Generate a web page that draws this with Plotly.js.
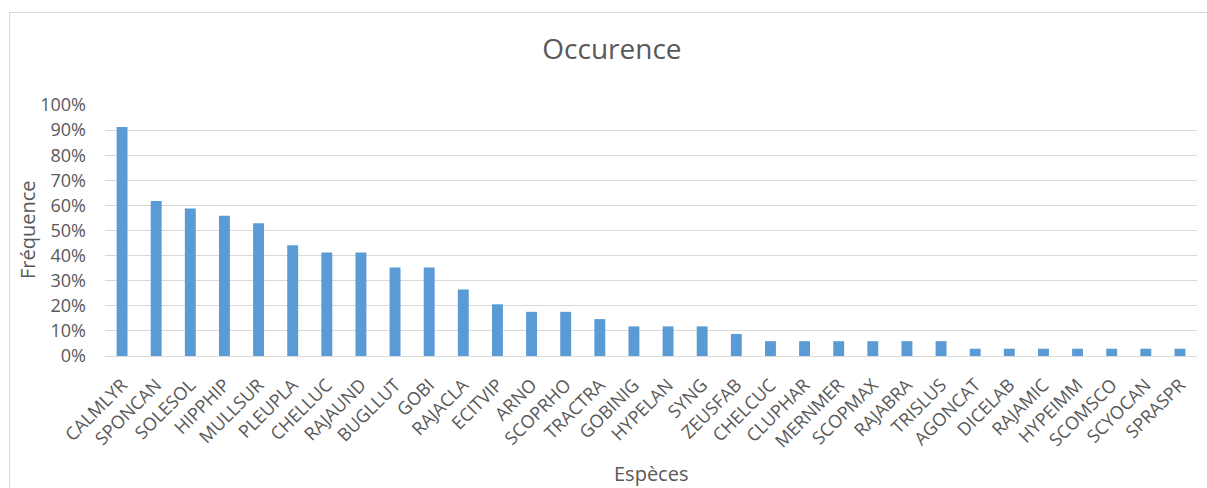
<!DOCTYPE html>
<html>
<head>
<meta charset="utf-8">
<script src="https://cdn.plot.ly/plotly-3.0.1.min.js"></script>
<style>
  html, body { margin: 0; padding: 0; background: #ffffff; }
  #wrap { position: relative; width: 1207px; height: 488px; overflow: hidden; }
  #chart { position: absolute; left: 0; top: 0; width: 1207px; height: 488px; }
  #frame { position: absolute; left: 9px; top: 12px; width: 1207px; height: 520px;
           border: 1px solid #d9d9d9; pointer-events: none; box-sizing: border-box; }
</style>
</head>
<body>
<div id="wrap">
  <div id="chart"></div>
  <div id="frame"></div>
</div>
<script>
// Species codes
const species = [
  "CALMLYR", "SPONCAN", "SOLESOL", "HIPPHIP", "MULLSUR", "PLEUPLA", "CHELLUC", "RAJAUND",
  "BUGLLUT", "GOBI", "RAJACLA", "ECITVIP", "ARNO", "SCOPRHO", "TRACTRA", "GOBINIG",
  "HYPELAN", "SYNG", "ZEUSFAB", "CHELCUC", "CLUPHAR", "MERNMER", "SCOPMAX", "RAJABRA",
  "TRISLUS", "AGONCAT", "DICELAB", "RAJAMIC", "HYPEIMM", "SCOMSCO", "SCYOCAN", "SPRASPR"
];

// Occurrence frequency per species
const frequency = [
  0.912, 0.618, 0.588, 0.559, 0.529, 0.441, 0.412, 0.412,
  0.353, 0.353, 0.265, 0.206, 0.176, 0.176, 0.147, 0.118,
  0.118, 0.118, 0.088, 0.059, 0.059, 0.059, 0.059, 0.059,
  0.059, 0.029, 0.029, 0.029, 0.029, 0.029, 0.029, 0.029
];

const fontFamily = "'Open Sans', 'Noto Sans', sans-serif";
const textColor = "#595959";

const trace = {
  type: "bar",
  x: species,
  y: frequency,
  marker: { color: "#5b9bd5", line: { width: 0 } },
  hoverinfo: "x+y"
};

const layout = {
  width: 1207,
  height: 488,
  margin: { l: 105, r: 10, t: 105, b: 132 },
  paper_bgcolor: "#ffffff",
  plot_bgcolor: "#ffffff",
  bargap: 0.68,
  showlegend: false,
  font: { family: fontFamily, color: textColor },
  title: {
    text: "Occurence",
    font: { family: fontFamily, size: 28, color: textColor },
    x: 0.507, xanchor: "center",
    y: 0.9, yanchor: "middle", yref: "container"
  },
  xaxis: {
    type: "category",
    tickangle: -45,
    tickfont: { family: fontFamily, size: 18, color: textColor },
    ticklabelstandoff: 14,
    showgrid: false,
    showline: false,
    zeroline: false,
    ticks: ""
  },
  yaxis: {
    range: [0, 1],
    dtick: 0.1,
    tickformat: ".0%",
    tickfont: { family: fontFamily, size: 18, color: textColor },
    ticklabelstandoff: 18,
    gridcolor: "#d9d9d9",
    gridwidth: 1,
    zeroline: true,
    zerolinecolor: "#d9d9d9",
    zerolinewidth: 1,
    showline: false,
    ticks: ""
  },
  annotations: [
    {
      text: "Fréquence", textangle: -90, showarrow: false,
      xref: "paper", yref: "paper", x: -0.0705, y: 0.502,
      xanchor: "center", yanchor: "middle",
      font: { family: fontFamily, size: 20, color: textColor }
    },
    {
      text: "Espèces", showarrow: false,
      xref: "paper", yref: "paper", x: 0.5, y: -0.468,
      xanchor: "center", yanchor: "middle",
      font: { family: fontFamily, size: 20, color: textColor }
    }
  ]
};

Plotly.newPlot("chart", [trace], layout, { staticPlot: true, displayModeBar: false });
</script>
</body>
</html>
